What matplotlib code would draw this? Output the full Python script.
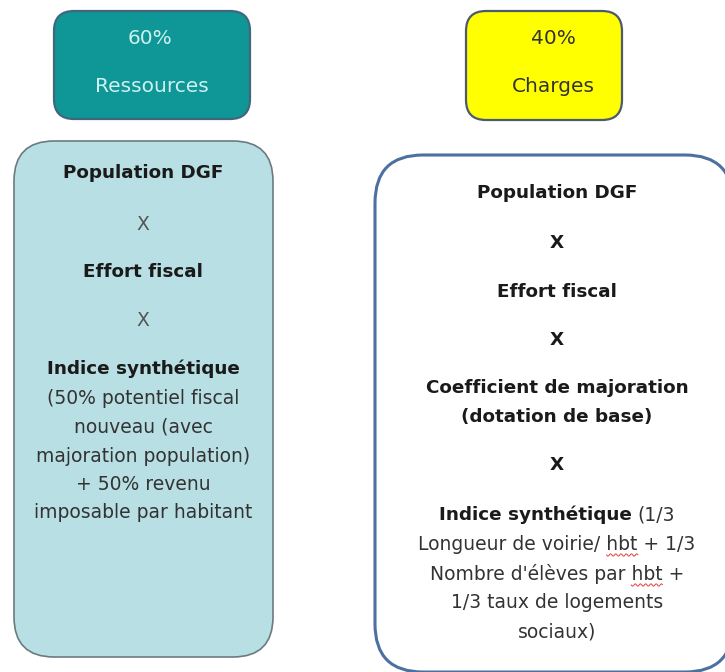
import numpy as np
import matplotlib.pyplot as plt
from matplotlib.patches import FancyBboxPatch
from matplotlib.font_manager import FontProperties

# textos del esquema
pct_ressources = "60%"
lbl_ressources = "Ressources"
pct_charges = "40%"
lbl_charges = "Charges"

facteurs_gauche = ["Population DGF", "X", "Effort fiscal", "X", "Indice synthétique"]
detail_gauche = ["(50% potentiel fiscal", "nouveau (avec", "majoration population)",
                 "+ 50% revenu", "imposable par habitant"]

facteurs_droite = ["Population DGF", "X", "Effort fiscal", "X",
                   "Coefficient de majoration", "(dotation de base)", "X"]
indice_droite = "Indice synthétique"
detail_droite = ["(1/3", "Longueur de voirie/ hbt + 1/3", "Nombre d'élèves par hbt +",
                 "1/3 taux de logements", "sociaux)"]
mot_souligne = "hbt"

# lienzo en píxeles (1 unidad = 1 px)
W, H = 725, 672
fig = plt.figure(figsize=(W / 100, H / 100), dpi=100)
ax = fig.add_axes([0, 0, 1, 1])
ax.set_xlim(0, W)
ax.set_ylim(H, 0)
ax.axis('off')


def caja(x0, y0, x1, y1, r, fc, ec, lw):
    p = FancyBboxPatch((x0, y0), x1 - x0, y1 - y0,
                       boxstyle=f"round,pad=0,rounding_size={r}",
                       fc=fc, ec=ec, lw=lw)
    ax.add_patch(p)


# cajas de arriba
caja(54, 11, 250, 119, 20, '#0f9696', '#41677f', 1.6)
caja(466, 11, 622, 120, 20, '#ffff00', '#4b5a6c', 1.6)
# cajas grandes
caja(14, 141, 273, 657, 40, '#b8dfe3', '#6b7b80', 1.2)
caja(375, 155, 733, 672, 48, 'white', '#4c70a0', 2.2)

reg = dict(family='DejaVu Sans', fontsize=13.5)
top = dict(family='DejaVu Sans', fontsize=14.5)
bold = dict(family='DejaVu Sans', fontsize=13.2, fontweight='bold')

# textos de arriba
ax.text(150, 39, pct_ressources, ha='center', va='center', color='#cdf1ef', **top)
ax.text(152, 86, lbl_ressources, ha='center', va='center', color='#cdf1ef', **top)
ax.text(553, 39, pct_charges, ha='center', va='center', color='#333333', **top)
ax.text(553, 86, lbl_charges, ha='center', va='center', color='#333333', **top)

# columna izquierda
xl = 143
y_fg = [173, 224, 272, 320, 369]
for t, y in zip(facteurs_gauche, y_fg):
    if t == "X":
        ax.text(xl, y, t, ha='center', va='center', color='#555555', **reg)
    else:
        ax.text(xl, y, t, ha='center', va='center', color='#1a1a1a', **bold)
y_dg = [398, 427, 456, 485, 513]
for t, y in zip(detail_gauche, y_dg):
    ax.text(xl, y, t, ha='center', va='center', color='#333333', **reg)

# columna derecha
xr = 557
y_fd = [193, 243, 292, 340, 388, 417, 465]
for t, y in zip(facteurs_droite, y_fd):
    ax.text(xr, y, t, ha='center', va='center', color='#1a1a1a', **bold)

# línea mixta negrita + normal
renderer = fig.canvas.get_renderer()
fp_b = FontProperties(family='DejaVu Sans', size=13.2, weight='bold')
fp_r = FontProperties(family='DejaVu Sans', size=13.5)


def ancho(s, fp):
    w, _, _ = renderer.get_text_width_height_descent(s, fp, ismath=False)
    return w


wb = ancho(indice_droite + " ", fp_b)
wr = ancho(detail_droite[0], fp_r)
x0 = xr - (wb + wr) / 2
ax.text(x0, 515, indice_droite, ha='left', va='center', color='#1a1a1a', **bold)
ax.text(x0 + wb, 515, detail_droite[0], ha='left', va='center', color='#333333', **reg)

y_dd = [544, 574, 603, 632]
for t, y in zip(detail_droite[1:], y_dd):
    ax.text(xr, y, t, ha='center', va='center', color='#333333', **reg)
    # subrayado ondulado del corrector
    if mot_souligne in t:
        i = t.index(mot_souligne)
        wt = ancho(t, fp_r)
        xa = xr - wt / 2 + ancho(t[:i], fp_r)
        xb = xa + ancho(mot_souligne, fp_r)
        xs = np.linspace(xa, xb, 40)
        ax.plot(xs, y + 11 + 1.2 * np.sin((xs - xa) * 1.2), color='#e04040', lw=0.7)

fig.savefig('out.png', dpi=100)
